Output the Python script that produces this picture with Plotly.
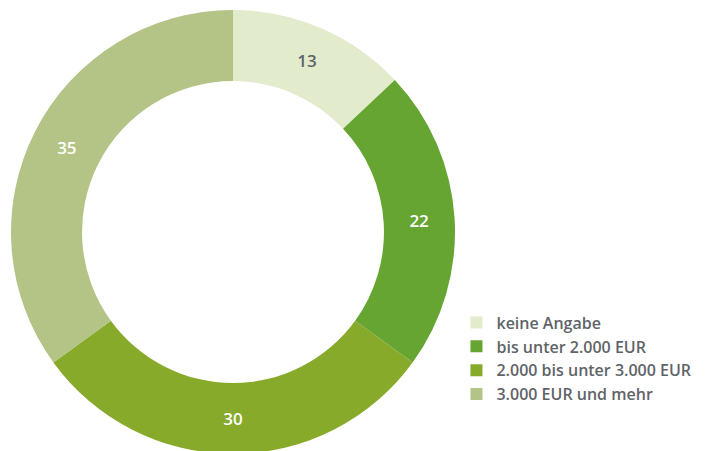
import plotly.graph_objects as go

labels = ["keine Angabe", "bis unter 2.000 EUR", "2.000 bis unter 3.000 EUR", "3.000 EUR und mehr"]
values = [13, 22, 30, 35]
colors = ["#e3ebcd", "#66a532", "#87aa2a", "#b4c487"]
text_colors = ["#5f6468", "#ffffff", "#ffffff", "#ffffff"]

W, H = 721, 451
# page body has an 8px margin; pie centre wanted at screen (233, 232), radius 222
cx, cy, r = 233 - 8, 232 - 8, 222

fig = go.Figure(go.Pie(
    labels=labels,
    values=values,
    sort=False,
    direction="clockwise",
    rotation=0,
    hole=0.68,
    marker=dict(colors=colors, line=dict(width=0)),
    textinfo="value",
    textposition="inside",
    insidetextorientation="horizontal",
    textfont=dict(family="Open Sans", size=17, color=text_colors, weight=600),
    domain=dict(x=[(cx - r) / W, (cx + r) / W], y=[1 - (cy + r) / H, 1 - (cy - r) / H]),
    showlegend=True,
))

fig.update_layout(
    width=W, height=H,
    margin=dict(l=0, r=0, t=0, b=0),
    paper_bgcolor="white",
    plot_bgcolor="white",
    legend=dict(
        x=0.622, y=0.34, xanchor="left", yanchor="top",
        font=dict(family="Open Sans", size=16, color="#5f6468", weight=600),
        itemwidth=30,
        tracegroupgap=0,
        bgcolor="rgba(0,0,0,0)",
    ),
)

fig.write_html("out.html")
